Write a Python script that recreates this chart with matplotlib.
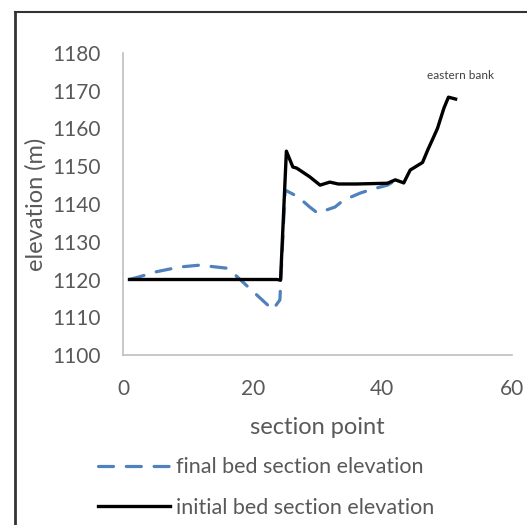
import matplotlib
matplotlib.use("Agg")
import matplotlib.pyplot as plt
from matplotlib.lines import Line2D

# ── Data ──────────────────────────────────────────────────────────────────────
init_x = [1, 5, 10, 15, 20, 23.8, 24.3, 25.2, 26.2, 26.8, 28.8, 30.4, 31.9, 33.2,
          36, 40.8, 42, 43.3, 44.3, 46.2, 47, 47.9, 48.5, 49.5, 50.2, 51.3]
init_y = [1120, 1120, 1120, 1120, 1120, 1120, 1119.8, 1154, 1149.8, 1149.5, 1147.2,
          1145, 1145.8, 1145.3, 1145.3, 1145.5, 1146.4, 1145.6, 1149, 1151,
          1154.3, 1157.7, 1160, 1165.4, 1168.3, 1167.8]

final_x = [1, 2.5, 5, 8.7, 11.8, 16, 17, 19.5, 23.1, 24.2, 25, 27, 28.8, 30,
           32.7, 34, 36.6, 38.6, 40.8, 42, 43.3]
final_y = [1120, 1120.7, 1122, 1123.3, 1123.8, 1123, 1121.7, 1117.7, 1112, 1114.6,
           1143.7, 1141.9, 1139.2, 1137.6, 1139.2, 1141, 1142.9, 1144, 1145,
           1146.2, 1145.6]

x_ticks = [0, 20, 40, 60]
y_ticks = [1100, 1110, 1120, 1130, 1140, 1150, 1160, 1170, 1180]

# ── Plot ──────────────────────────────────────────────────────────────────────
plt.rcParams["font.family"] = ["Lato", "DejaVu Sans"]
TXT = "#595959"

fig = plt.figure(figsize=(5.27, 5.25), dpi=100)
ax = fig.add_axes([123 / 527, 1 - 355 / 525, 389 / 527, 302 / 525])

ax.plot(final_x, final_y, color="#4f81bd", lw=2.3, ls=(0, (4.7, 4)),
        label="final bed section elevation", dash_capstyle="round")
ax.plot(init_x, init_y, color="black", lw=2.4, label="initial bed section elevation",
        solid_joinstyle="round")

ax.set_xlim(0, 60)
ax.set_ylim(1100, 1180)
ax.set_xticks(x_ticks)
ax.set_yticks(y_ticks)
ax.tick_params(length=0, labelsize=15, labelcolor=TXT)
ax.tick_params(axis="x", pad=17)
ax.tick_params(axis="y", pad=16)
for s in ["top", "right"]:
    ax.spines[s].set_visible(False)
for s in ["left", "bottom"]:
    ax.spines[s].set_color("#bfbfbf")
    ax.spines[s].set_linewidth(1.2)

ax.set_xlabel("section point", fontsize=17, color=TXT)
ax.set_ylabel("elevation (m)", fontsize=17, color=TXT)
ax.xaxis.set_label_coords(0.5, -(427 - 355) / 302, transform=ax.transAxes)
ax.yaxis.set_label_coords(-(123 - 36) / 389, 0.5, transform=ax.transAxes)
ax.xaxis.label.set_va("center")
ax.yaxis.label.set_va("center")

ax.text(52, 1172.5, "eastern bank", fontsize=8.5, color="#404040",
        ha="center", va="bottom")

fig.legend(loc="upper left", bbox_to_anchor=(92 / 527, 1 - 451 / 525),
           frameon=False, fontsize=15.5, labelcolor=TXT, handlelength=3.3,
           handletextpad=0.3, labelspacing=0.95, borderaxespad=0, borderpad=0.3)

# outer frame (left and top edges only visible)
fig.add_artist(Line2D([15 / 527, 15 / 527], [0, 1 - 12 / 525], color="#333333", lw=2))
fig.add_artist(Line2D([15 / 527, 1], [1 - 12 / 525, 1 - 12 / 525], color="#333333", lw=1.5))

fig.savefig("out.png", dpi=100)
